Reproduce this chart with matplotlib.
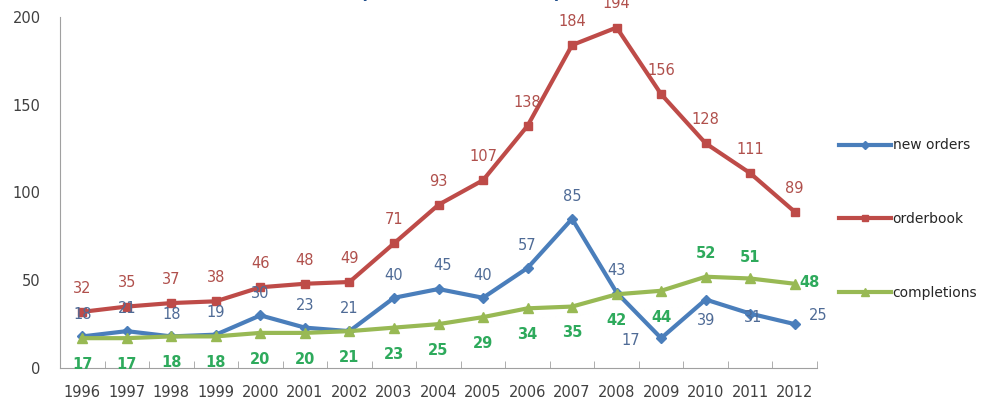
import matplotlib
matplotlib.use('Agg')
import matplotlib.pyplot as plt

years = [str(y) for y in range(1996, 2013)]
new_orders = [18, 21, 18, 19, 30, 23, 21, 40, 45, 40, 57, 85, 43, 17, 39, 31, 25]
orderbook = [32, 35, 37, 38, 46, 48, 49, 71, 93, 107, 138, 184, 194, 156, 128, 111, 89]
completions = [17, 17, 18, 18, 20, 20, 21, 23, 25, 29, 34, 35, 42, 44, 52, 51, 48]

C_BLUE = '#4A7EBB'
C_RED = '#BE4B48'
C_GREEN = '#98B954'
T_BLUE = '#4F6B96'
T_RED = '#B0504C'
T_GREEN = '#2EAA5C'

fig = plt.figure(figsize=(9.91, 4.01), dpi=100)
ax = fig.add_axes([60 / 991, 33 / 401, 757 / 991, 351 / 401])

x = list(range(len(years)))
ax.plot(x, new_orders, color=C_BLUE, lw=3, marker='D', ms=5, label='new orders')
ax.plot(x, orderbook, color=C_RED, lw=3, marker='s', ms=6, label='orderbook')
ax.plot(x, completions, color=C_GREEN, lw=3, marker='^', ms=7, label='completions')

# label offsets in points (dx, dy); defaults per series plus a few tweaks
fs = 10.5
for i, v in enumerate(orderbook):
    ax.annotate(str(v), (i, v), xytext=(0, 17), textcoords='offset points',
                ha='center', va='center', color=T_RED, fontsize=fs)

blue_off = {8: (3, 17), 13: (-22, -2), 14: (0, -15), 15: (2, -3), 16: (17, 6)}
for i, v in enumerate(new_orders):
    dx, dy = blue_off.get(i, (0, 16))
    ax.annotate(str(v), (i, v), xytext=(dx, dy), textcoords='offset points',
                ha='center', va='center', color=T_BLUE, fontsize=fs)

green_off = {14: (0, 17), 15: (0, 15), 16: (11, 1)}
for i, v in enumerate(completions):
    dx, dy = green_off.get(i, (0, -19))
    ax.annotate(str(v), (i, v), xytext=(dx, dy), textcoords='offset points',
                ha='center', va='center', color=T_GREEN, fontsize=fs,
                fontweight='bold')

ax.set_xlim(-0.5, len(years) - 0.5)
ax.set_ylim(0, 200)
ax.set_yticks([0, 50, 100, 150, 200])
ax.set_xticks(x)
ax.set_xticklabels(years)
ax.set_xticks([i + 0.5 for i in range(-1, len(years))], minor=True)
ax.tick_params(axis='x', which='major', length=0, pad=12, labelsize=fs, labelcolor='#404040')
ax.tick_params(axis='x', which='minor', length=5, direction='in', color='#A0A0A0')
ax.tick_params(axis='y', length=0, pad=14, labelsize=fs, labelcolor='#404040')
for s in ['top', 'right']:
    ax.spines[s].set_visible(False)
for s in ['left', 'bottom']:
    ax.spines[s].set_color('#A0A0A0')

leg = ax.legend(loc='upper left', bbox_to_anchor=(773 / 757, 0.67),
                frameon=False, fontsize=10, labelspacing=4.3, handlelength=3.8,
                handletextpad=0.1, borderaxespad=0, labelcolor='#262626',
                markerscale=0.8)

# title mostly cut off at the top of the picture
fig.text(0.465, 1 + 1 / 401, '(number of vessels)', ha='center', va='baseline',
         fontsize=13, fontweight='bold', color='#1F4E8C')

fig.savefig('out.png', dpi=100)
